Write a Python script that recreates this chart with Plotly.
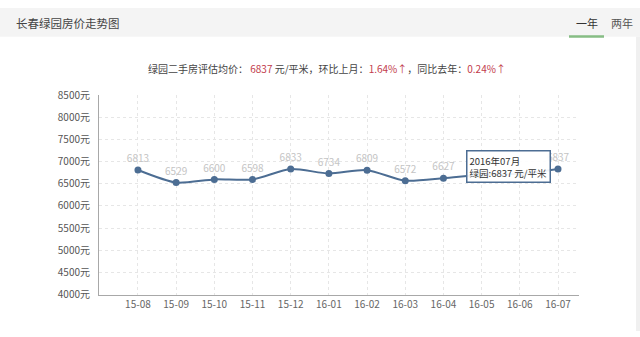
import plotly.graph_objects as go

months = ["15-08", "15-09", "15-10", "15-11", "15-12", "16-01",
          "16-02", "16-03", "16-04", "16-05", "16-06", "16-07"]
prices = [6813, 6529, 6600, 6598, 6833, 6734, 6809, 6572, 6627, 6705, 6727, 6837]
labels = ["6813", "6529", "6600", "6598", "6833", "6734", "6809", "6572", "6627", "", "", "6837"]
y_ticks = [4000, 4500, 5000, 5500, 6000, 6500, 7000, 7500, 8000, 8500]
y_tick_text = ["4000元", "4500元", "5000元", "5500元", "6000元", "6500元",
               "7000元", "7500元", "8000元", "8500元"]

W, H = 640, 337
FONT = "Noto Sans CJK SC, Microsoft YaHei, sans-serif"

def px(x):
    return x / W

def py(y):
    return 1 - y / H

fig = go.Figure()
fig.add_trace(go.Scatter(
    x=months, y=prices, mode="lines+markers+text",
    text=labels, textposition="top center",
    textfont=dict(size=10, color="#c4c4c4", family=FONT),
    line=dict(color="#4c6d93", width=2, shape="spline", smoothing=0.7),
    marker=dict(size=7, color="#4c6d93"),
    hoverinfo="skip", cliponaxis=False,
))

fig.update_layout(
    width=W, height=H, margin=dict(l=0, r=0, t=0, b=0),
    paper_bgcolor="white", plot_bgcolor="white",
    showlegend=False,
    font=dict(family=FONT, size=10, color="#666"),
    xaxis=dict(
        type="category", domain=[px(99), px(579)], range=[-1.02, 11.55],
        showgrid=True, gridcolor="#e6e6e6", griddash="dot", gridwidth=1,
        showline=True, linecolor="#a8a8a8", linewidth=1,
        ticks="", tickfont=dict(size=10, color="#666"), fixedrange=True,
        zeroline=False,
    ),
    yaxis=dict(
        domain=[py(299), py(91)], range=[4000, 8500],
        tickmode="array", tickvals=y_ticks, ticktext=y_tick_text,
        showgrid=True, gridcolor="#e6e6e6", griddash="dot", gridwidth=1,
        showline=True, linecolor="#a8a8a8", linewidth=1,
        ticks="", ticklabelstandoff=6, tickfont=dict(size=10, color="#555"),
        zeroline=False, fixedrange=True,
    ),
)

shapes = [
    dict(type="rect", xref="paper", yref="paper", x0=0, x1=1, y0=py(30), y1=1,
         fillcolor="#f4f4f4", line=dict(width=0), layer="below"),
    dict(type="rect", xref="paper", yref="paper", x0=px(569), x1=px(604), y0=py(31), y1=py(28.5),
         fillcolor="#86bd84", line=dict(width=0)),
    dict(type="rect", xref="paper", yref="paper", x0=px(636), x1=1, y0=0, y1=py(30),
         fillcolor="#f0f0f0", line=dict(width=0), layer="below"),
]
fig.update_layout(shapes=shapes)

anns = [
    dict(text="长春绿园房价走势图", x=px(14), y=py(16), xref="paper", yref="paper",
         xanchor="left", yanchor="middle", showarrow=False,
         font=dict(size=11.5, color="#444", family=FONT)),
    dict(text="一年", x=px(587), y=py(16), xref="paper", yref="paper",
         xanchor="center", yanchor="middle", showarrow=False,
         font=dict(size=11, color="#333", family=FONT)),
    dict(text="两年", x=px(622), y=py(16), xref="paper", yref="paper",
         xanchor="center", yanchor="middle", showarrow=False,
         font=dict(size=11, color="#555", family=FONT)),
    dict(text=("绿园二手房评估均价： <span style='color:#c23b4b'>" + str(prices[-1]) + "</span> 元/平米，环比上月："
               "<span style='color:#c23b4b'>1.64%↑</span>，同比去年：<span style='color:#c23b4b'>0.24%↑</span>"),
         x=px(327), y=py(63), xref="paper", yref="paper",
         xanchor="center", yanchor="middle", showarrow=False,
         font=dict(size=10, color="#444", family=FONT)),
    dict(text="2016年07月<br>绿园:" + str(prices[-1]) + " 元/平米", align="left",
         x=px(466), y=py(148), xref="paper", yref="paper",
         xanchor="left", yanchor="top", showarrow=False,
         bgcolor="rgba(255,255,255,0.92)", bordercolor="#4c6d93", borderwidth=1.5, borderpad=2,
         font=dict(size=9.5, color="#333", family=FONT)),
]
fig.update_layout(annotations=anns)

fig.write_html("out.html")
